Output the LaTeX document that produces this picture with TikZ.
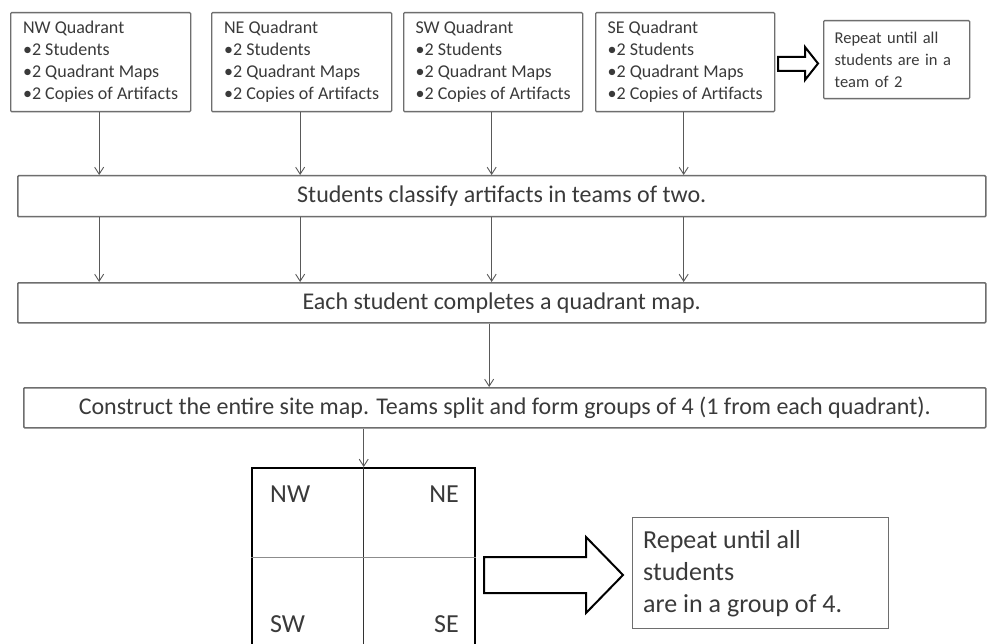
\documentclass[tikz,border=0pt]{standalone}
\usepackage{fontspec}
\setmainfont{Carlito}
\usetikzlibrary{arrows.meta}
\definecolor{boxline}{HTML}{6E6E6E}
\definecolor{txt}{HTML}{3A3A3A}
\begin{document}
\begin{tikzpicture}[x=1pt,y=-1pt,
  topbox/.style={draw=boxline,line width=1.3pt,rounded corners=1pt,minimum width=180pt,minimum height=99pt,anchor=north west,align=left,text=txt,font=\fontsize{18}{22}\selectfont,inner sep=0pt},
  widebox/.style={draw=boxline,line width=1.5pt,rounded corners=1pt,minimum height=41pt,anchor=north west,text=txt,font=\fontsize{24}{28}\selectfont,inner sep=0pt},
  qlabel/.style={text=txt,font=\fontsize{26}{30}\selectfont,inner sep=0pt},
  arr/.style={draw=black!65,line width=0.9pt,-{Straight Barb[length=7pt,width=9pt,line width=0.9pt]}},
  hollow/.style={draw=black,line width=2pt,fill=white,line join=miter}
]
\useasboundingbox (0,0) rectangle (987,644);
\fill[white] (0,0) rectangle (987,644);

% top boxes
\node[topbox] (nw) at (10,12) {NW Quadrant\\•2 Students\\•2 Quadrant Maps\\•2 Copies of Artifacts};
\node[topbox] (ne) at (211,12) {NE Quadrant\\•2 Students\\•2 Quadrant Maps\\•2 Copies of Artifacts};
\node[topbox,minimum width=179pt] (sw) at (403,12) {SW Quadrant\\•2 Students\\•2 Quadrant Maps\\•2 Copies of Artifacts};
\node[topbox,minimum width=179pt] (se) at (595,12) {SE Quadrant\\•2 Students\\•2 Quadrant Maps\\•2 Copies of Artifacts};
\node[draw=boxline,line width=1.3pt,rounded corners=1pt,minimum width=146pt,minimum height=78pt,anchor=north west,align=left,text width=124pt,text=txt,font=\fontsize{16.5}{22}\selectfont,inner sep=0pt] (rep2) at (823,20) {Repeat until all\\students are in a\\team of 2};

% small hollow arrow
\draw[hollow] (778,57) -- (805,57) -- (805,47) -- (818,63.5) -- (805,80) -- (805,71) -- (778,71) -- cycle;

% wide boxes
\node[widebox,minimum width=968pt] (b1) at (17,175) {Students classify artifacts in teams of two.};
\node[widebox,minimum width=968pt,minimum height=40pt] (b2) at (17,282) {Each student completes a quadrant map.};
\node[widebox,minimum width=962pt,minimum height=40pt] (b3) at (23,387) {Construct the entire site map. Teams split and form groups of 4 (1 from each quadrant).};

% arrows top boxes -> b1 -> b2
\foreach \n in {nw,ne,sw,se}{
  \draw[arr] ([xshift=-1.5pt]\n.south) -- ([xshift=-1.5pt]\n.south |- b1.north);
  \draw[arr] ([xshift=-1.5pt]\n.south |- b1.south) -- ([xshift=-1.5pt]\n.south |- b2.north);
}
\draw[arr] ([xshift=-4pt]sw.south |- b2.south) -- ([xshift=-4pt]sw.south |- b3.north);

% quadrant grid
\node[draw=black,line width=2.4pt,minimum width=223pt,minimum height=182pt,anchor=north west,inner sep=0pt] (grid) at (251,467) {};
\draw[black!80,line width=1pt] (grid.north) -- (grid.south);
\draw[black!45,line width=1.3pt] ([yshift=2pt]grid.west) -- ([yshift=2pt]grid.east);
\node[qlabel,anchor=base west] (qnw) at (270,502) {NW};
\node[qlabel,anchor=base east] (qne) at (459,502) {NE};
\node[qlabel,anchor=base west] (qsw) at (270,632) {SW};
\node[qlabel,anchor=base east] (qse) at (459,632) {SE};

\draw[arr] (b3.south -| grid.north) -- (grid.north);

% big hollow arrow
\draw[hollow] (484,557) -- (586,557) -- (586,537) -- (623,575) -- (586,613) -- (586,593) -- (484,593) -- cycle;

% repeat box bottom
\node[draw=boxline,line width=1.3pt,minimum width=256pt,minimum height=111pt,anchor=north west,inner sep=0pt] (rep4) at (632,517) {};
\node[anchor=north west,align=left,text=txt,font=\fontsize{26}{32}\selectfont,inner sep=0pt] (rep4t) at (643,530) {Repeat until all\\students\\are in a group of 4.};
\end{tikzpicture}
\end{document}
